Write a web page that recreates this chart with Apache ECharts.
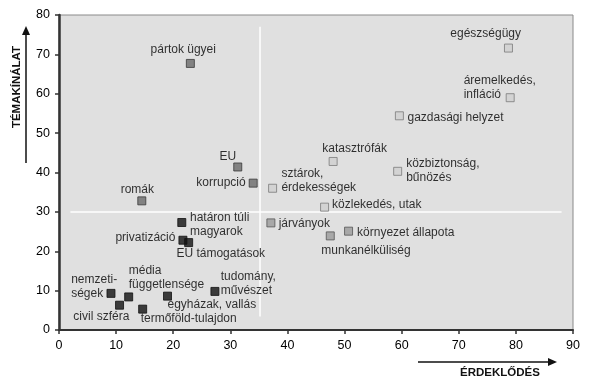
<!DOCTYPE html>
<html>
<head>
<meta charset="utf-8">
<script src="https://cdn.jsdelivr.net/npm/echarts@6/dist/echarts.min.js"></script>
<style>html,body{margin:0;padding:0;background:#fff}#c{width:590px;height:387px}</style>
</head>
<body>
<div id="c"></div>
<script>
// ---- data ----
const names = ['pártok ügyei','EU','korrupció','romák','sztárok,\nérdekességek','határon túli\nmagyarok','privatizáció','EU támogatások','nemzeti-\nségek','média\nfüggetlensége','civil szféra','termőföld-tulajdon','egyházak, vallás','tudomány,\nművészet','járványok','közlekedés, utak','környezet állapota','munkanélküliség','katasztrófák','közbiztonság,\nbűnözés','gazdasági helyzet','áremelkedés,\ninfláció','egészségügy'];
const erdeklodes = [23.0,31.3,34.0,14.5,37.4,21.5,21.7,22.7,9.1,12.2,10.6,14.65,19.0,27.3,37.1,46.5,50.7,47.5,48.0,59.3,59.6,79.0,78.7];
const temakinalat = [67.7,41.4,37.3,32.8,36.0,27.3,22.8,22.2,9.3,8.4,6.3,5.3,8.6,9.8,27.2,31.2,25.1,23.9,42.8,40.3,54.4,59.0,71.6];
// shade group: 0 black, 1 dark gray, 2 mid gray, 3 light gray
const group = [1,1,1,1,3,0,0,0,0,0,0,0,0,0,2,3,2,2,3,3,3,3,3];
const xTicks = [0,10,20,30,40,50,60,70,80,90];
const yTicks = [0,10,20,30,40,50,60,70,80];
const dividerX = 35.2, dividerXFrom = 3.4, dividerXTo = 77;
const dividerY = 30, dividerYFrom = 2, dividerYTo = 88;

// ---- styles (label placement relative to marker centre) ----
const labelPlace = [
  [-6.6,-13.4,'center'],[-9.5,-9.6,'center'],[-7,0,'right'],[-4,-10.3,'center'],
  [9.3,-6.7,'left'],[8.7,2.7,'left'],[-7,-2.3,'right'],[32.6,12,'center'],
  [-39.3,-6,'left'],[0.6,-19,'left'],[-17.7,12.3,'center'],[46.5,10,'center'],
  [44.8,9.3,'center'],[6.3,-7.1,'left'],[8.3,1.6,'left'],[8,-2.4,'left'],
  [9,1.6,'left'],[36.2,15,'center'],[22,-12.3,'center'],[9,0,'left'],
  [8.6,2.3,'left'],[-46,-10,'left'],[-22.3,-13.7,'center']
];
const shades = [
  {color:'#111111', borderColor:'#111111'},
  {color:'#6a6a6a', borderColor:'#3a3a3a'},
  {color:'#9a9a9a', borderColor:'#555555'},
  {color:'#cfcfcf', borderColor:'#7a7a7a'}
];
const S = 8;
const font = 'Liberation Sans, Arial, sans-serif';

const pts = names.map((n,i)=>{
  const p = labelPlace[i];
  return {
    name:n,
    value:[erdeklodes[i], temakinalat[i]],
    itemStyle:Object.assign({borderWidth:1}, shades[group[i]]),
    label:{show:true, formatter:n, position:[p[0]+S/2, p[1]+S/2], align:p[2], verticalAlign:'middle',
      color:'#000', fontSize:12, fontFamily:font, lineHeight:14}
  };
});

const chart = echarts.init(document.getElementById('c'), null, {renderer:'canvas'});
chart.setOption({
  animation:false,
  grid:{left:59, top:15, width:514, height:315, show:true, backgroundColor:'#e0e0e0', borderColor:'#8a8a8a', borderWidth:1},
  xAxis:{type:'value', min:xTicks[0], max:xTicks[xTicks.length-1], interval:10,
    axisLine:{show:true, lineStyle:{color:'#333', width:2}},
    axisTick:{show:true, length:4, lineStyle:{color:'#333', width:1.5}},
    axisLabel:{color:'#000', fontSize:12.5, fontFamily:font, margin:9},
    splitLine:{show:false}},
  yAxis:{type:'value', min:yTicks[0], max:yTicks[yTicks.length-1], interval:10,
    axisLine:{show:true, lineStyle:{color:'#333', width:2.5}},
    axisTick:{show:true, length:4, lineStyle:{color:'#333', width:1.5}},
    axisLabel:{color:'#000', fontSize:12.5, fontFamily:font, margin:9},
    splitLine:{show:false}},
  series:[
    {type:'line', data:[[dividerX,dividerXFrom],[dividerX,dividerXTo]], symbol:'none', lineStyle:{color:'#fff', width:1.5}, silent:true, z:1},
    {type:'line', data:[[dividerYFrom,dividerY],[dividerYTo,dividerY]], symbol:'none', lineStyle:{color:'#fff', width:1.5}, silent:true, z:1},
    {type:'scatter', symbol:'rect', symbolSize:S, data:pts, z:3}
  ],
  graphic:[
    {type:'line', shape:{x1:26,y1:163,x2:26,y2:34}, style:{stroke:'#111', lineWidth:1.5}},
    {type:'polygon', shape:{points:[[26,26],[22,35],[30,35]]}, style:{fill:'#111'}},
    {type:'text', x:17, y:87, rotation:Math.PI/2, style:{text:'TÉMAKÍNÁLAT', font:'bold 11.5px Liberation Sans, Arial, sans-serif', fill:'#111', textAlign:'center', textVerticalAlign:'middle'}},
    {type:'line', shape:{x1:418,y1:362,x2:548,y2:362}, style:{stroke:'#111', lineWidth:1.5}},
    {type:'polygon', shape:{points:[[557,362],[548,358],[548,366]]}, style:{fill:'#111'}},
    {type:'text', x:500, y:373, style:{text:'ÉRDEKLŐDÉS', font:'bold 11.5px Liberation Sans, Arial, sans-serif', fill:'#111', textAlign:'center', textVerticalAlign:'middle'}}
  ]
});
</script>
</body>
</html>
